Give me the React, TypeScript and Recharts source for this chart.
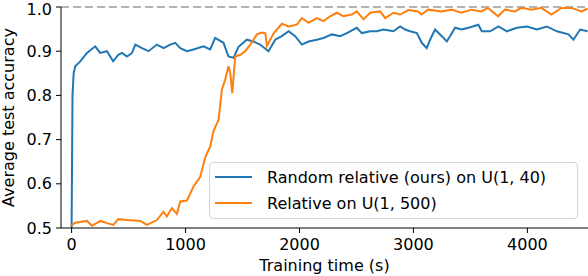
import {
  LineChart,
  Line,
  XAxis,
  YAxis,
  Legend,
  ReferenceLine,
} from "recharts";

const blueTime = [
  0, 8, 18, 32, 76, 135, 207, 251, 310, 365, 410, 442, 486, 530, 559, 618, 675,
  749, 807, 866, 910, 954, 1012, 1070, 1158, 1216, 1260, 1333, 1377, 1421, 1465,
  1538, 1596, 1655, 1728, 1787, 1845, 1904, 1962, 2021, 2079, 2152, 2211, 2284,
  2357, 2416, 2503, 2547, 2620, 2679, 2737, 2825, 2883, 2927, 2971, 3030, 3073,
  3117, 3146, 3190, 3249, 3293, 3366, 3424, 3483, 3570, 3600, 3673, 3746, 3820,
  3908, 3996, 4083, 4171, 4259, 4361, 4404, 4463, 4528,
];
const blueAcc = [
  0.5, 0.8, 0.85, 0.866, 0.877, 0.896, 0.911, 0.896, 0.9, 0.877, 0.892, 0.896,
  0.888, 0.896, 0.915, 0.907, 0.9, 0.915, 0.907, 0.915, 0.919, 0.907, 0.9,
  0.904, 0.911, 0.904, 0.93, 0.919, 0.888, 0.885, 0.91, 0.926, 0.922, 0.915,
  0.9, 0.926, 0.934, 0.945, 0.934, 0.915, 0.922, 0.926, 0.93, 0.938, 0.934,
  0.941, 0.953, 0.941, 0.945, 0.945, 0.949, 0.945, 0.956, 0.949, 0.945, 0.941,
  0.919, 0.907, 0.926, 0.949, 0.934, 0.922, 0.953, 0.949, 0.953, 0.96, 0.945,
  0.945, 0.956, 0.945, 0.953, 0.956, 0.949, 0.956, 0.945, 0.938, 0.926, 0.949,
  0.945,
];

const orangeTime = [
  0, 4, 32, 135, 179, 252, 310, 366, 410, 486, 603, 661, 749, 807, 836, 880,
  924, 954, 1012, 1070, 1128, 1173, 1216, 1246, 1290, 1319, 1348, 1377, 1392,
  1410, 1436, 1480, 1524, 1568, 1626, 1670, 1700, 1714, 1772, 1845, 1904, 1977,
  2021, 2079, 2152, 2211, 2269, 2328, 2386, 2459, 2503, 2562, 2620, 2708, 2752,
  2825, 2883, 2956, 3041, 3070, 3129, 3246, 3334, 3421, 3509, 3597, 3655, 3743,
  3802, 3890, 3948, 4036, 4123, 4211, 4298, 4386, 4474, 4528,
];
const orangeAcc = [
  0.505, 0.507, 0.512, 0.516, 0.505, 0.516, 0.511, 0.507, 0.52, 0.518, 0.516,
  0.507, 0.518, 0.537, 0.526, 0.545, 0.532, 0.56, 0.562, 0.594, 0.615, 0.66,
  0.684, 0.72, 0.745, 0.813, 0.836, 0.866, 0.851, 0.805, 0.888, 0.892, 0.9,
  0.915, 0.938, 0.942, 0.941, 0.912, 0.94, 0.962, 0.956, 0.96, 0.975, 0.964,
  0.975, 0.968, 0.979, 0.987, 0.979, 0.983, 0.99, 0.972, 0.987, 0.99, 0.975,
  0.987, 0.983, 0.993, 0.99, 0.983, 0.994, 0.99, 0.994, 0.987, 0.994, 0.99,
  0.998, 0.979, 0.994, 0.99, 0.998, 0.994, 0.998, 0.983, 0.998, 0.998, 0.99,
  0.996,
];

const xTicks = [0, 1000, 2000, 3000, 4000];
const yTicks = [0.5, 0.6, 0.7, 0.8, 0.9, 1.0];

const blueName = "Random relative (ours) on U(1, 40)";
const orangeName = "Relative on U(1, 500)";

const blueData = blueTime.map((t, i) => ({ t, acc: blueAcc[i] }));
const orangeData = orangeTime.map((t, i) => ({ t, acc: orangeAcc[i] }));

const font = "DejaVu Sans";

function LegendBox(props: any) {
  const items = props.payload || [];
  return (
    <div
      style={{
        width: 367,
        height: 55,
        border: "1px solid #d6d6d6",
        borderRadius: 4,
        background: "rgba(255,255,255,0.8)",
        fontFamily: font,
        fontSize: 16,
        color: "#000",
      }}
    >
      {items.map((it: any, i: number) => (
        <div
          key={i}
          style={{
            display: "flex",
            alignItems: "center",
            height: 26,
            marginTop: i === 0 ? 1 : 0,
          }}
        >
          <div
            style={{
              marginLeft: 5,
              width: 37,
              height: 2,
              background: it.color,
            }}
          />
          <span style={{ marginLeft: 15, whiteSpace: "nowrap" }}>
            {it.value}
          </span>
        </div>
      ))}
    </div>
  );
}

export default function App() {
  return (
    <div style={{ position: "absolute", left: 0, top: 0 }}>
      <LineChart
        width={588}
        height={276}
        margin={{ top: 7, right: 0, left: 0, bottom: 0 }}
      >
        <XAxis
          type="number"
          dataKey="t"
          domain={[-93, 4532]}
          allowDataOverflow
          ticks={xTicks}
          height={48}
          tickSize={5}
          tickMargin={6}
          stroke="#000"
          tick={{ fill: "#000", fontSize: 16, fontFamily: font }}
          label={{
            value: "Training time (s)",
            position: "insideBottom",
            offset: 5,
            fill: "#000",
            fontSize: 16,
            fontFamily: font,
          }}
        />
        <YAxis
          type="number"
          domain={[0.5, 1.0]}
          ticks={yTicks}
          width={61}
          tickSize={5}
          tickMargin={4}
          stroke="#000"
          tickFormatter={(v: number) => v.toFixed(1)}
          tick={{ fill: "#000", fontSize: 16, fontFamily: font }}
          label={{
            value: "Average test accuracy",
            angle: -90,
            position: "insideLeft",
            offset: 8,
            fill: "#000",
            fontSize: 16,
            fontFamily: font,
            style: { textAnchor: "middle" },
          }}
        />
        <ReferenceLine
          y={1}
          stroke="#999"
          strokeWidth={1.5}
          strokeDasharray="8 4"
        />
        <Line
          data={blueData}
          dataKey="acc"
          name={blueName}
          stroke="#1f77b4"
          strokeWidth={2}
          dot={false}
          type="linear"
          isAnimationActive={false}
        />
        <Line
          data={orangeData}
          dataKey="acc"
          name={orangeName}
          stroke="#ff7f0e"
          strokeWidth={2}
          dot={false}
          type="linear"
          isAnimationActive={false}
        />
        <Legend
          layout="horizontal"
          verticalAlign="middle"
          align="center"
          wrapperStyle={{ left: 209, top: 162, width: 369, height: 57 }}
          content={LegendBox}
        />
      </LineChart>
    </div>
  );
}
